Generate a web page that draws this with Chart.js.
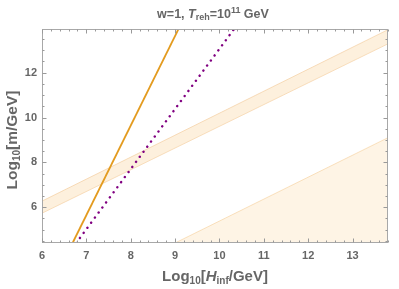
<!DOCTYPE html>
<html>
<head>
<meta charset="utf-8">
<script src="https://cdn.jsdelivr.net/npm/chart.js@4.4.1/dist/chart.umd.min.js"></script>
<style>
  html, body { margin: 0; padding: 0; background: #fff; }
  #wrap { width: 399px; height: 289px; }
</style>
</head>
<body>
<div id="wrap"><canvas id="chart" width="399" height="289"></canvas></div>
<script>
// axis ranges and ticks (Log10 values)
const xRange = [6, 13.8];
const yRange = [4.4, 13.95];
const xTicks = [6, 7, 8, 9, 10, 11, 12, 13];
const yTicks = [6, 8, 10, 12];

// curves as {H, m} pairs
const orangeLine = [{ x: 6.69, y: 4.4 }, { x: 9.09, y: 14.0 }];
const purpleLine = [{ x: 6.77, y: 4.4 }, { x: 10.33, y: 13.95 }];
const bandUpper = [{ x: 6, y: 6.27 }, { x: 13.8, y: 13.92 }];
const bandLower = [{ x: 6, y: 5.73 }, { x: 13.8, y: 13.29 }];
const wedgeEdge = [{ x: 9, y: 4.4 }, { x: 13.8, y: 9.1 }];

const FONT = "'Liberation Sans', Arial, sans-serif";
const TEXT = '#666';

// draw a run of text pieces (for sub/superscripts)
function drawRuns(ctx, runs, cx, baseline) {
  let w = 0;
  runs.forEach(r => { ctx.font = r.font; w += ctx.measureText(r.t).width; });
  let x = cx - w / 2;
  ctx.textAlign = 'left';
  ctx.textBaseline = 'alphabetic';
  runs.forEach(r => {
    ctx.font = r.font;
    ctx.fillText(r.t, x, baseline + (r.dy || 0));
    x += ctx.measureText(r.t).width;
  });
}

const framePlugin = {
  id: 'frame',
  afterDatasetsDraw(chart) {
    const { ctx, chartArea: a, scales: { x, y } } = chart;
    const L = Math.round(a.left) + 0.5, R = Math.round(a.right) - 0.5;
    const T = Math.round(a.top) + 0.5, B = Math.round(a.bottom) - 0.5;
    ctx.save();
    ctx.strokeStyle = '#a8a8a8';
    ctx.lineWidth = 1;
    ctx.strokeRect(L, T, R - L, B - T);

    ctx.strokeStyle = '#999';
    ctx.beginPath();
    // x ticks, minor every 0.2
    for (let i = 30; i <= 69; i++) {
      const v = i / 5;
      const px = Math.round(x.getPixelForValue(v)) + 0.5;
      const len = i % 5 === 0 ? 4 : 2;
      ctx.moveTo(px, B); ctx.lineTo(px, B - len);
      ctx.moveTo(px, T); ctx.lineTo(px, T + len);
    }
    // y ticks, minor every 0.5
    for (let i = 9; i <= 27; i++) {
      const v = i / 2;
      const py = Math.round(y.getPixelForValue(v)) + 0.5;
      const len = i % 4 === 0 ? 4 : 2;
      ctx.moveTo(L, py); ctx.lineTo(L + len, py);
      ctx.moveTo(R, py); ctx.lineTo(R - len, py);
    }
    ctx.stroke();
    ctx.restore();
  },
  afterDraw(chart) {
    const { ctx, chartArea: a } = chart;
    ctx.save();
    ctx.fillStyle = TEXT;

    // title
    drawRuns(ctx, [
      { t: 'w=1, ', font: `bold 12.5px ${FONT}` },
      { t: 'T', font: `italic bold 12.5px ${FONT}` },
      { t: 'reh', font: `bold 9px ${FONT}`, dy: 2 },
      { t: '=10', font: `bold 12.5px ${FONT}` },
      { t: '11', font: `bold 9px ${FONT}`, dy: -5 },
      { t: ' GeV', font: `bold 12.5px ${FONT}` },
    ], 213, 18);

    // x axis title
    drawRuns(ctx, [
      { t: 'Log', font: `bold 15px ${FONT}` },
      { t: '10', font: `bold 10px ${FONT}`, dy: 3 },
      { t: '[', font: `bold 15px ${FONT}` },
      { t: 'H', font: `italic bold 15px ${FONT}` },
      { t: 'inf', font: `bold 10px ${FONT}`, dy: 3 },
      { t: '/GeV]', font: `bold 15px ${FONT}` },
    ], (a.left + a.right) / 2, 281);

    // y axis title
    ctx.translate(16.5, 140);
    ctx.rotate(-Math.PI / 2);
    drawRuns(ctx, [
      { t: 'Log', font: `bold 15.5px ${FONT}` },
      { t: '10', font: `bold 10px ${FONT}`, dy: 3 },
      { t: '[m/GeV]', font: `bold 15.5px ${FONT}` },
    ], 0, 0);
    ctx.restore();
  }
};

const base = { pointRadius: 0, clip: 0, tension: 0 };

new Chart(document.getElementById('chart'), {
  type: 'line',
  data: {
    datasets: [
      { ...base, data: orangeLine, borderColor: '#e39b1f', borderWidth: 1.8, fill: false, order: 0 },
      { ...base, data: purpleLine, borderColor: '#800080', borderWidth: 2.4,
        borderDash: [0.1, 6.2], borderCapStyle: 'round', fill: false, order: 1 },
      { ...base, data: bandUpper, borderColor: 'rgba(240,195,140,0.55)', borderWidth: 1,
        backgroundColor: 'rgba(250,215,165,0.38)', fill: '+1', order: 2 },
      { ...base, data: bandLower, borderColor: 'rgba(240,195,140,0.55)', borderWidth: 1, fill: false, order: 3 },
      { ...base, data: wedgeEdge, borderColor: 'rgba(245,205,150,0.6)', borderWidth: 1,
        backgroundColor: 'rgba(252,228,190,0.4)', fill: 'start', order: 4 },
    ]
  },
  options: {
    responsive: false,
    animation: false,
    layout: { padding: { top: 29, right: 11, left: 0, bottom: 0 } },
    plugins: { legend: { display: false }, tooltip: { enabled: false } },
    scales: {
      x: {
        type: 'linear', min: xRange[0], max: xRange[1],
        grid: { display: false, drawTicks: false }, border: { display: false },
        ticks: { color: TEXT, padding: 6, font: { family: FONT, weight: 'bold', size: 11 } },
        afterBuildTicks: s => { s.ticks = xTicks.map(v => ({ value: v })); },
        afterFit: s => { s.height = 46; }
      },
      y: {
        type: 'linear', min: yRange[0], max: yRange[1],
        grid: { display: false, drawTicks: false }, border: { display: false },
        ticks: { color: TEXT, padding: 5, font: { family: FONT, weight: 'bold', size: 11 } },
        afterBuildTicks: s => { s.ticks = yTicks.map(v => ({ value: v })); },
        afterFit: s => { s.width = 42; }
      }
    }
  },
  plugins: [framePlugin]
});
</script>
</body>
</html>
